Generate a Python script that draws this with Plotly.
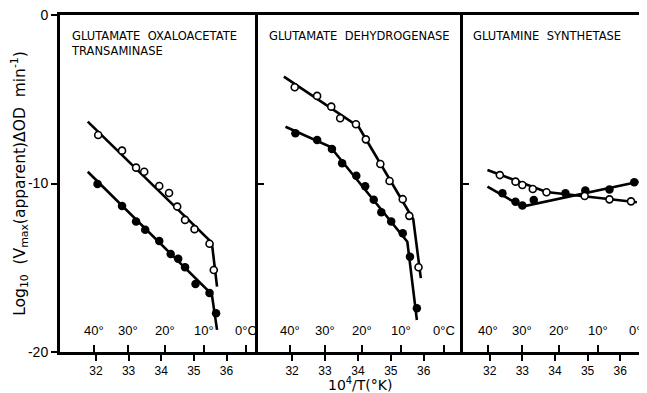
import plotly.graph_objects as go

# ---------------- data ----------------
panel_titles = ["GLUTAMATE  OXALOACETATE<br>TRANSAMINASE",
                "GLUTAMATE  DEHYDROGENASE",
                "GLUTAMINE  SYNTHETASE"]

# Panel 1: glutamate oxaloacetate transaminase
got_open_x = [32.07, 32.80, 33.23, 33.48, 33.94, 34.24, 34.49, 34.73, 35.02, 35.48, 35.61]
got_open_y = [-7.12, -8.05, -9.06, -9.30, -10.15, -10.56, -11.37, -12.16, -12.71, -13.58, -15.13]
got_open_line_x = [31.75, 35.55, 35.71]
got_open_line_y = [-6.33, -13.51, -16.12]
got_fill_x = [32.05, 32.80, 33.23, 33.51, 33.94, 34.29, 34.52, 34.73, 35.05, 35.48, 35.68]
got_fill_y = [-10.03, -11.33, -12.26, -12.75, -13.41, -14.18, -14.47, -14.97, -15.97, -16.50, -17.70]
got_fill_line_x = [31.75, 35.55, 35.71]
got_fill_line_y = [-9.30, -16.58, -18.69]

# Panel 2: glutamate dehydrogenase
gdh_open_x = [32.08, 32.76, 33.19, 33.46, 33.94, 34.24, 34.68, 34.96, 35.36, 35.56, 35.84]
gdh_open_y = [-4.29, -4.80, -5.44, -6.13, -6.48, -7.38, -8.84, -9.85, -10.93, -11.92, -14.97]
gdh_open_line_x = [31.75, 34.02, 35.68, 35.91]
gdh_open_line_y = [-3.66, -6.63, -12.12, -15.62]
gdh_fill_x = [32.10, 32.76, 33.21, 33.52, 33.95, 34.22, 34.48, 34.71, 35.01, 35.36, 35.58, 35.79]
gdh_fill_y = [-7.02, -7.42, -7.95, -8.80, -9.54, -10.17, -10.96, -11.71, -12.26, -12.95, -14.35, -17.41]
gdh_fill_line_x = [31.80, 33.16, 35.50, 35.79]
gdh_fill_line_y = [-6.63, -7.82, -13.46, -18.10]

# Panel 3: glutamine synthetase
gs_open_x = [32.31, 32.79, 33.00, 33.32, 33.74, 34.91, 35.67, 36.33]
gs_open_y = [-9.50, -9.89, -10.09, -10.33, -10.52, -10.74, -10.94, -11.06]
gs_open_line_x = [31.93, 33.74, 36.51]
gs_open_line_y = [-9.20, -10.50, -11.11]
gs_fill_x = [32.39, 32.79, 33.00, 33.35, 34.32, 34.93, 35.67, 36.43]
gs_fill_y = [-10.58, -11.08, -11.31, -10.98, -10.58, -10.42, -10.35, -9.93]
gs_fill_line_x = [31.93, 33.00, 36.56]
gs_fill_line_y = [-10.19, -11.37, -9.89]

x_ticks = [32, 33, 34, 35, 36]
y_ticks = [0, -10, -20]
y_ticklabels = ["0", "-10", "-20"]
temps_c = [40, 30, 20, 10, 0]
temp_labels = ["40°", "30°", "20°", "10°", "0°C"]
temp_pos = [1e4 / (t + 273.15) for t in temps_c]

x_ranges = [[30.90, 36.95], [30.95, 37.19], [31.18, 36.82]]
domains = [[0.0, 0.3365], [0.3365, 0.6865], [0.6865, 1.0]]

panels = [
    (got_open_x, got_open_y, got_open_line_x, got_open_line_y,
     got_fill_x, got_fill_y, got_fill_line_x, got_fill_line_y),
    (gdh_open_x, gdh_open_y, gdh_open_line_x, gdh_open_line_y,
     gdh_fill_x, gdh_fill_y, gdh_fill_line_x, gdh_fill_line_y),
    (gs_open_x, gs_open_y, gs_open_line_x, gs_open_line_y,
     gs_fill_x, gs_fill_y, gs_fill_line_x, gs_fill_line_y),
]

FONT = "Liberation Sans"
TFONT = "DejaVu Sans"
fig = go.Figure()
LW = 2.6

for i, (ox, oy, olx, oly, fx, fy, flx, fly) in enumerate(panels):
    xa = "x" if i == 0 else f"x{i+1}"
    ya = "y" if i == 0 else f"y{i+1}"
    fig.add_trace(go.Scatter(x=olx, y=oly, mode="lines", xaxis=xa, yaxis=ya,
                             line=dict(color="black", width=LW), showlegend=False))
    fig.add_trace(go.Scatter(x=flx, y=fly, mode="lines", xaxis=xa, yaxis=ya,
                             line=dict(color="black", width=LW), showlegend=False))
    fig.add_trace(go.Scatter(x=fx, y=fy, mode="markers", xaxis=xa, yaxis=ya,
                             marker=dict(color="black", size=8.5, line=dict(color="black", width=0)),
                             showlegend=False))
    fig.add_trace(go.Scatter(x=ox, y=oy, mode="markers", xaxis=xa, yaxis=ya,
                             marker=dict(color="white", size=7, line=dict(color="black", width=1.6)),
                             showlegend=False))

# the page body has an 8px margin, so the figure is offset by 8px
layout = dict(
    width=639, height=385,
    margin=dict(l=52, r=0, t=7, b=41, autoexpand=False),
    paper_bgcolor="white", plot_bgcolor="white",
    font=dict(family=FONT, color="black", size=12),
    showlegend=False,
)

for i in range(3):
    sfx = "" if i == 0 else str(i + 1)
    layout["xaxis" + sfx] = dict(
        domain=domains[i], range=x_ranges[i], anchor="y" + sfx,
        showline=True, linecolor="black", linewidth=3, mirror=True,
        showgrid=False, zeroline=False, automargin=False,
        tickmode="array", tickvals=x_ticks, ticktext=[str(v) for v in x_ticks],
        ticks="outside", ticklen=6, tickwidth=2, tickcolor="black",
        tickfont=dict(family=FONT, size=12, color="black"),
        minor=dict(tickmode="array", tickvals=temp_pos, ticks="inside",
                   ticklen=7, tickwidth=2, tickcolor="black", showgrid=False),
    )
    ya = dict(
        domain=[0, 1], range=[-20, 0], anchor="x" + sfx,
        showline=True, linecolor="black", linewidth=3,
        mirror=False, showgrid=False, zeroline=False, automargin=False,
        tickmode="array", tickvals=y_ticks,
        ticklen=6, tickwidth=2, tickcolor="black",
    )
    if i == 0:
        ya.update(ticks="outside", ticktext=y_ticklabels, showticklabels=True,
                  ticklabeloverflow="allow",
                  tickfont=dict(family=FONT, size=14, color="black"),
                  title=dict(text="Log<sub>10</sub>  (V<sub>max</sub>(apparent)ΔOD  min<sup>-1</sup>)",
                             font=dict(family=TFONT, size=15.5, color="black"), standoff=4))
    else:
        ya.update(ticks="inside", showticklabels=False)
    layout["yaxis" + sfx] = ya

layout["xaxis2"]["title"] = dict(text="10<sup>4</sup>/T(°K)",
                                 font=dict(family=TFONT, size=14, color="black"), standoff=3)

annotations = []
for i, t in enumerate(panel_titles):
    sfx = "" if i == 0 else str(i + 1)
    annotations.append(dict(
        text=t, xref=f"x{sfx} domain", yref=f"y{sfx} domain",
        x=0.045, y=0.965, xanchor="left", yanchor="top",
        showarrow=False, align="left",
        font=dict(family=TFONT, size=11.5, color="black"),
    ))
    # temperature scale labels inside each panel
    for tp, tl in zip(temp_pos, temp_labels):
        annotations.append(dict(
            text=tl, xref=f"x{sfx}", yref=f"y{sfx} domain",
            x=tp, y=0.035, xanchor="center", yanchor="bottom",
            showarrow=False, font=dict(family=FONT, size=13, color="black"),
        ))
layout["annotations"] = annotations

fig.update_layout(**layout)
fig.write_html("out.html")
